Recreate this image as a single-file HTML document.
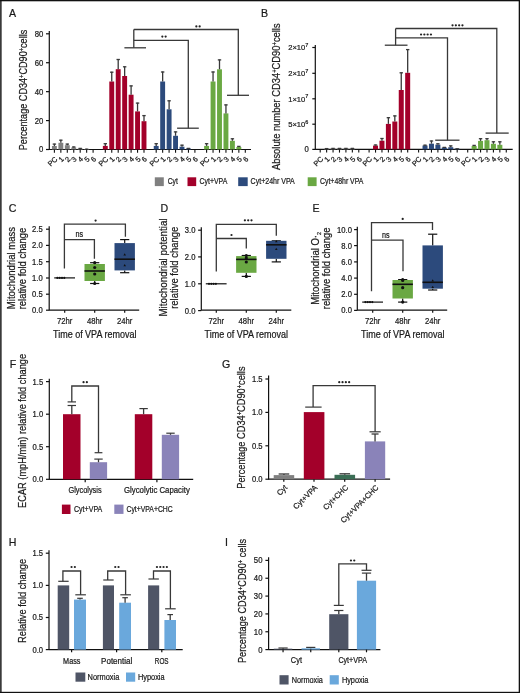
<!DOCTYPE html>
<html><head><meta charset="utf-8"><style>
html,body{margin:0;padding:0;background:#fff;width:520px;height:693px;overflow:hidden}
svg{display:block}
text{font-family:"Liberation Sans", sans-serif;stroke:#1a1a1a;stroke-width:0.22px}
svg{will-change:transform}
</style></head><body>
<svg width="520" height="693" viewBox="0 0 520 693" font-family='"Liberation Sans", sans-serif'>
<rect x="0" y="0" width="520" height="693" fill="#ffffff"/>
<text x="9.00" y="16.60" font-size="10.6" fill="#1a1a1a">A</text>
<line x1="49.30" y1="31.00" x2="49.30" y2="150.00" stroke="#111" stroke-width="1.2"/>
<line x1="49.30" y1="149.50" x2="251.00" y2="149.50" stroke="#111" stroke-width="1.2"/>
<line x1="46.00" y1="149.50" x2="49.30" y2="149.50" stroke="#111" stroke-width="1.2"/>
<text x="43.35" y="152.45" font-size="8.2" fill="#1a1a1a" text-anchor="end" textLength="4.30" lengthAdjust="spacingAndGlyphs">0</text>
<line x1="46.00" y1="120.58" x2="49.30" y2="120.58" stroke="#111" stroke-width="1.2"/>
<text x="43.35" y="123.53" font-size="8.2" fill="#1a1a1a" text-anchor="end" textLength="8.60" lengthAdjust="spacingAndGlyphs">20</text>
<line x1="46.00" y1="91.65" x2="49.30" y2="91.65" stroke="#111" stroke-width="1.2"/>
<text x="43.35" y="94.60" font-size="8.2" fill="#1a1a1a" text-anchor="end" textLength="8.60" lengthAdjust="spacingAndGlyphs">40</text>
<line x1="46.00" y1="62.72" x2="49.30" y2="62.72" stroke="#111" stroke-width="1.2"/>
<text x="43.35" y="65.67" font-size="8.2" fill="#1a1a1a" text-anchor="end" textLength="8.60" lengthAdjust="spacingAndGlyphs">60</text>
<line x1="46.00" y1="33.80" x2="49.30" y2="33.80" stroke="#111" stroke-width="1.2"/>
<text x="43.35" y="36.75" font-size="8.2" fill="#1a1a1a" text-anchor="end" textLength="8.60" lengthAdjust="spacingAndGlyphs">80</text>
<text transform="translate(27.30,90.00) rotate(-90)" font-size="10.4" fill="#1a1a1a" text-anchor="middle" textLength="120.50" lengthAdjust="spacingAndGlyphs">Percentage CD34<tspan dy="-3.0" font-size="6.5">+</tspan><tspan dy="3.0">CD90</tspan><tspan dy="-3.0" font-size="6.5">+</tspan><tspan dy="3.0">cells</tspan></text>
<rect x="51.95" y="146.00" width="4.90" height="3.50" fill="#808080"/>
<line x1="54.40" y1="146.00" x2="54.40" y2="143.70" stroke="#383838" stroke-width="1.3"/>
<line x1="52.70" y1="144.10" x2="56.10" y2="144.10" stroke="#383838" stroke-width="1.3"/>
<line x1="54.40" y1="149.50" x2="54.40" y2="152.70" stroke="#111" stroke-width="1.1"/>
<text transform="translate(56.10,157.90) rotate(-45)" font-size="7.3" fill="#1a1a1a" text-anchor="end" dominant-baseline="central">PC</text>
<rect x="58.40" y="142.80" width="4.90" height="6.70" fill="#808080"/>
<line x1="60.85" y1="142.80" x2="60.85" y2="139.80" stroke="#383838" stroke-width="1.3"/>
<line x1="59.15" y1="140.20" x2="62.55" y2="140.20" stroke="#383838" stroke-width="1.3"/>
<line x1="60.85" y1="149.50" x2="60.85" y2="152.70" stroke="#111" stroke-width="1.1"/>
<text transform="translate(62.55,157.90) rotate(-45)" font-size="7.3" fill="#1a1a1a" text-anchor="end" dominant-baseline="central">1</text>
<rect x="64.85" y="145.20" width="4.90" height="4.30" fill="#808080"/>
<line x1="67.30" y1="145.20" x2="67.30" y2="143.70" stroke="#383838" stroke-width="1.3"/>
<line x1="65.60" y1="144.10" x2="69.00" y2="144.10" stroke="#383838" stroke-width="1.3"/>
<line x1="67.30" y1="149.50" x2="67.30" y2="152.70" stroke="#111" stroke-width="1.1"/>
<text transform="translate(69.00,157.90) rotate(-45)" font-size="7.3" fill="#1a1a1a" text-anchor="end" dominant-baseline="central">2</text>
<rect x="71.30" y="147.50" width="4.90" height="2.00" fill="#808080"/>
<line x1="73.75" y1="147.50" x2="73.75" y2="146.60" stroke="#383838" stroke-width="1.3"/>
<line x1="72.05" y1="147.00" x2="75.45" y2="147.00" stroke="#383838" stroke-width="1.3"/>
<line x1="73.75" y1="149.50" x2="73.75" y2="152.70" stroke="#111" stroke-width="1.1"/>
<text transform="translate(75.45,157.90) rotate(-45)" font-size="7.3" fill="#1a1a1a" text-anchor="end" dominant-baseline="central">3</text>
<rect x="77.75" y="148.50" width="4.90" height="1.00" fill="#808080"/>
<line x1="80.20" y1="148.50" x2="80.20" y2="148.00" stroke="#383838" stroke-width="1.3"/>
<line x1="78.50" y1="148.40" x2="81.90" y2="148.40" stroke="#383838" stroke-width="1.3"/>
<line x1="80.20" y1="149.50" x2="80.20" y2="152.70" stroke="#111" stroke-width="1.1"/>
<text transform="translate(81.90,157.90) rotate(-45)" font-size="7.3" fill="#1a1a1a" text-anchor="end" dominant-baseline="central">4</text>
<rect x="84.20" y="149.00" width="4.90" height="0.50" fill="#808080"/>
<line x1="86.65" y1="149.00" x2="86.65" y2="148.80" stroke="#383838" stroke-width="1.3"/>
<line x1="84.95" y1="149.20" x2="88.35" y2="149.20" stroke="#383838" stroke-width="1.3"/>
<line x1="86.65" y1="149.50" x2="86.65" y2="152.70" stroke="#111" stroke-width="1.1"/>
<text transform="translate(88.35,157.90) rotate(-45)" font-size="7.3" fill="#1a1a1a" text-anchor="end" dominant-baseline="central">5</text>
<line x1="93.10" y1="149.50" x2="93.10" y2="152.70" stroke="#111" stroke-width="1.1"/>
<text transform="translate(94.80,157.90) rotate(-45)" font-size="7.3" fill="#1a1a1a" text-anchor="end" dominant-baseline="central">6</text>
<rect x="102.85" y="145.90" width="4.90" height="3.60" fill="#a3002a"/>
<line x1="105.30" y1="145.90" x2="105.30" y2="143.30" stroke="#383838" stroke-width="1.3"/>
<line x1="103.60" y1="143.70" x2="107.00" y2="143.70" stroke="#383838" stroke-width="1.3"/>
<line x1="105.30" y1="149.50" x2="105.30" y2="152.70" stroke="#111" stroke-width="1.1"/>
<text transform="translate(107.00,157.90) rotate(-45)" font-size="7.3" fill="#1a1a1a" text-anchor="end" dominant-baseline="central">PC</text>
<rect x="109.30" y="81.50" width="4.90" height="68.00" fill="#a3002a"/>
<line x1="111.75" y1="81.50" x2="111.75" y2="71.80" stroke="#383838" stroke-width="1.3"/>
<line x1="110.05" y1="72.20" x2="113.45" y2="72.20" stroke="#383838" stroke-width="1.3"/>
<line x1="111.75" y1="149.50" x2="111.75" y2="152.70" stroke="#111" stroke-width="1.1"/>
<text transform="translate(113.45,157.90) rotate(-45)" font-size="7.3" fill="#1a1a1a" text-anchor="end" dominant-baseline="central">1</text>
<rect x="115.75" y="69.20" width="4.90" height="80.30" fill="#a3002a"/>
<line x1="118.20" y1="69.20" x2="118.20" y2="59.10" stroke="#383838" stroke-width="1.3"/>
<line x1="116.50" y1="59.50" x2="119.90" y2="59.50" stroke="#383838" stroke-width="1.3"/>
<line x1="118.20" y1="149.50" x2="118.20" y2="152.70" stroke="#111" stroke-width="1.1"/>
<text transform="translate(119.90,157.90) rotate(-45)" font-size="7.3" fill="#1a1a1a" text-anchor="end" dominant-baseline="central">2</text>
<rect x="122.20" y="76.00" width="4.90" height="73.50" fill="#a3002a"/>
<line x1="124.65" y1="76.00" x2="124.65" y2="66.40" stroke="#383838" stroke-width="1.3"/>
<line x1="122.95" y1="66.80" x2="126.35" y2="66.80" stroke="#383838" stroke-width="1.3"/>
<line x1="124.65" y1="149.50" x2="124.65" y2="152.70" stroke="#111" stroke-width="1.1"/>
<text transform="translate(126.35,157.90) rotate(-45)" font-size="7.3" fill="#1a1a1a" text-anchor="end" dominant-baseline="central">3</text>
<rect x="128.65" y="94.70" width="4.90" height="54.80" fill="#a3002a"/>
<line x1="131.10" y1="94.70" x2="131.10" y2="85.50" stroke="#383838" stroke-width="1.3"/>
<line x1="129.40" y1="85.90" x2="132.80" y2="85.90" stroke="#383838" stroke-width="1.3"/>
<line x1="131.10" y1="149.50" x2="131.10" y2="152.70" stroke="#111" stroke-width="1.1"/>
<text transform="translate(132.80,157.90) rotate(-45)" font-size="7.3" fill="#1a1a1a" text-anchor="end" dominant-baseline="central">4</text>
<rect x="135.10" y="111.40" width="4.90" height="38.10" fill="#a3002a"/>
<line x1="137.55" y1="111.40" x2="137.55" y2="102.70" stroke="#383838" stroke-width="1.3"/>
<line x1="135.85" y1="103.10" x2="139.25" y2="103.10" stroke="#383838" stroke-width="1.3"/>
<line x1="137.55" y1="149.50" x2="137.55" y2="152.70" stroke="#111" stroke-width="1.1"/>
<text transform="translate(139.25,157.90) rotate(-45)" font-size="7.3" fill="#1a1a1a" text-anchor="end" dominant-baseline="central">5</text>
<rect x="141.55" y="121.20" width="4.90" height="28.30" fill="#a3002a"/>
<line x1="144.00" y1="121.20" x2="144.00" y2="115.20" stroke="#383838" stroke-width="1.3"/>
<line x1="142.30" y1="115.60" x2="145.70" y2="115.60" stroke="#383838" stroke-width="1.3"/>
<line x1="144.00" y1="149.50" x2="144.00" y2="152.70" stroke="#111" stroke-width="1.1"/>
<text transform="translate(145.70,157.90) rotate(-45)" font-size="7.3" fill="#1a1a1a" text-anchor="end" dominant-baseline="central">6</text>
<rect x="153.75" y="145.90" width="4.90" height="3.60" fill="#2c4a7c"/>
<line x1="156.20" y1="145.90" x2="156.20" y2="143.30" stroke="#383838" stroke-width="1.3"/>
<line x1="154.50" y1="143.70" x2="157.90" y2="143.70" stroke="#383838" stroke-width="1.3"/>
<line x1="156.20" y1="149.50" x2="156.20" y2="152.70" stroke="#111" stroke-width="1.1"/>
<text transform="translate(157.90,157.90) rotate(-45)" font-size="7.3" fill="#1a1a1a" text-anchor="end" dominant-baseline="central">PC</text>
<rect x="160.20" y="81.50" width="4.90" height="68.00" fill="#2c4a7c"/>
<line x1="162.65" y1="81.50" x2="162.65" y2="71.60" stroke="#383838" stroke-width="1.3"/>
<line x1="160.95" y1="72.00" x2="164.35" y2="72.00" stroke="#383838" stroke-width="1.3"/>
<line x1="162.65" y1="149.50" x2="162.65" y2="152.70" stroke="#111" stroke-width="1.1"/>
<text transform="translate(164.35,157.90) rotate(-45)" font-size="7.3" fill="#1a1a1a" text-anchor="end" dominant-baseline="central">1</text>
<rect x="166.65" y="109.30" width="4.90" height="40.20" fill="#2c4a7c"/>
<line x1="169.10" y1="109.30" x2="169.10" y2="100.40" stroke="#383838" stroke-width="1.3"/>
<line x1="167.40" y1="100.80" x2="170.80" y2="100.80" stroke="#383838" stroke-width="1.3"/>
<line x1="169.10" y1="149.50" x2="169.10" y2="152.70" stroke="#111" stroke-width="1.1"/>
<text transform="translate(170.80,157.90) rotate(-45)" font-size="7.3" fill="#1a1a1a" text-anchor="end" dominant-baseline="central">2</text>
<rect x="173.10" y="135.80" width="4.90" height="13.70" fill="#2c4a7c"/>
<line x1="175.55" y1="135.80" x2="175.55" y2="131.50" stroke="#383838" stroke-width="1.3"/>
<line x1="173.85" y1="131.90" x2="177.25" y2="131.90" stroke="#383838" stroke-width="1.3"/>
<line x1="175.55" y1="149.50" x2="175.55" y2="152.70" stroke="#111" stroke-width="1.1"/>
<text transform="translate(177.25,157.90) rotate(-45)" font-size="7.3" fill="#1a1a1a" text-anchor="end" dominant-baseline="central">3</text>
<rect x="179.55" y="146.70" width="4.90" height="2.80" fill="#2c4a7c"/>
<line x1="182.00" y1="146.70" x2="182.00" y2="144.80" stroke="#383838" stroke-width="1.3"/>
<line x1="180.30" y1="145.20" x2="183.70" y2="145.20" stroke="#383838" stroke-width="1.3"/>
<line x1="182.00" y1="149.50" x2="182.00" y2="152.70" stroke="#111" stroke-width="1.1"/>
<text transform="translate(183.70,157.90) rotate(-45)" font-size="7.3" fill="#1a1a1a" text-anchor="end" dominant-baseline="central">4</text>
<rect x="186.00" y="148.50" width="4.90" height="1.00" fill="#2c4a7c"/>
<line x1="188.45" y1="148.50" x2="188.45" y2="148.00" stroke="#383838" stroke-width="1.3"/>
<line x1="186.75" y1="148.40" x2="190.15" y2="148.40" stroke="#383838" stroke-width="1.3"/>
<line x1="188.45" y1="149.50" x2="188.45" y2="152.70" stroke="#111" stroke-width="1.1"/>
<text transform="translate(190.15,157.90) rotate(-45)" font-size="7.3" fill="#1a1a1a" text-anchor="end" dominant-baseline="central">5</text>
<line x1="194.90" y1="149.50" x2="194.90" y2="152.70" stroke="#111" stroke-width="1.1"/>
<text transform="translate(196.60,157.90) rotate(-45)" font-size="7.3" fill="#1a1a1a" text-anchor="end" dominant-baseline="central">6</text>
<rect x="204.15" y="145.90" width="4.90" height="3.60" fill="#6aa843"/>
<line x1="206.60" y1="145.90" x2="206.60" y2="143.30" stroke="#383838" stroke-width="1.3"/>
<line x1="204.90" y1="143.70" x2="208.30" y2="143.70" stroke="#383838" stroke-width="1.3"/>
<line x1="206.60" y1="149.50" x2="206.60" y2="152.70" stroke="#111" stroke-width="1.1"/>
<text transform="translate(208.30,157.90) rotate(-45)" font-size="7.3" fill="#1a1a1a" text-anchor="end" dominant-baseline="central">PC</text>
<rect x="210.60" y="81.50" width="4.90" height="68.00" fill="#6aa843"/>
<line x1="213.05" y1="81.50" x2="213.05" y2="71.60" stroke="#383838" stroke-width="1.3"/>
<line x1="211.35" y1="72.00" x2="214.75" y2="72.00" stroke="#383838" stroke-width="1.3"/>
<line x1="213.05" y1="149.50" x2="213.05" y2="152.70" stroke="#111" stroke-width="1.1"/>
<text transform="translate(214.75,157.90) rotate(-45)" font-size="7.3" fill="#1a1a1a" text-anchor="end" dominant-baseline="central">1</text>
<rect x="217.05" y="69.30" width="4.90" height="80.20" fill="#6aa843"/>
<line x1="219.50" y1="69.30" x2="219.50" y2="59.50" stroke="#383838" stroke-width="1.3"/>
<line x1="217.80" y1="59.90" x2="221.20" y2="59.90" stroke="#383838" stroke-width="1.3"/>
<line x1="219.50" y1="149.50" x2="219.50" y2="152.70" stroke="#111" stroke-width="1.1"/>
<text transform="translate(221.20,157.90) rotate(-45)" font-size="7.3" fill="#1a1a1a" text-anchor="end" dominant-baseline="central">2</text>
<rect x="223.50" y="113.40" width="4.90" height="36.10" fill="#6aa843"/>
<line x1="225.95" y1="113.40" x2="225.95" y2="104.50" stroke="#383838" stroke-width="1.3"/>
<line x1="224.25" y1="104.90" x2="227.65" y2="104.90" stroke="#383838" stroke-width="1.3"/>
<line x1="225.95" y1="149.50" x2="225.95" y2="152.70" stroke="#111" stroke-width="1.1"/>
<text transform="translate(227.65,157.90) rotate(-45)" font-size="7.3" fill="#1a1a1a" text-anchor="end" dominant-baseline="central">3</text>
<rect x="229.95" y="140.80" width="4.90" height="8.70" fill="#6aa843"/>
<line x1="232.40" y1="140.80" x2="232.40" y2="138.40" stroke="#383838" stroke-width="1.3"/>
<line x1="230.70" y1="138.80" x2="234.10" y2="138.80" stroke="#383838" stroke-width="1.3"/>
<line x1="232.40" y1="149.50" x2="232.40" y2="152.70" stroke="#111" stroke-width="1.1"/>
<text transform="translate(234.10,157.90) rotate(-45)" font-size="7.3" fill="#1a1a1a" text-anchor="end" dominant-baseline="central">4</text>
<rect x="236.40" y="147.00" width="4.90" height="2.50" fill="#6aa843"/>
<line x1="238.85" y1="147.00" x2="238.85" y2="146.00" stroke="#383838" stroke-width="1.3"/>
<line x1="237.15" y1="146.40" x2="240.55" y2="146.40" stroke="#383838" stroke-width="1.3"/>
<line x1="238.85" y1="149.50" x2="238.85" y2="152.70" stroke="#111" stroke-width="1.1"/>
<text transform="translate(240.55,157.90) rotate(-45)" font-size="7.3" fill="#1a1a1a" text-anchor="end" dominant-baseline="central">5</text>
<line x1="245.30" y1="149.50" x2="245.30" y2="152.70" stroke="#111" stroke-width="1.1"/>
<text transform="translate(247.00,157.90) rotate(-45)" font-size="7.3" fill="#1a1a1a" text-anchor="end" dominant-baseline="central">6</text>
<line x1="133.80" y1="29.50" x2="133.80" y2="47.80" stroke="#383838" stroke-width="1.3"/>
<line x1="124.40" y1="47.80" x2="146.00" y2="47.80" stroke="#383838" stroke-width="1.3"/>
<polyline points="133.80,29.50 238.30,29.50 238.30,95.30" fill="none" stroke="#383838" stroke-width="1.3"/>
<line x1="227.00" y1="95.30" x2="249.00" y2="95.30" stroke="#383838" stroke-width="1.3"/>
<polyline points="133.80,40.30 188.30,40.30 188.30,128.20" fill="none" stroke="#383838" stroke-width="1.3"/>
<line x1="177.10" y1="128.20" x2="198.80" y2="128.20" stroke="#383838" stroke-width="1.3"/>
<circle cx="196.35" cy="26.40" r="1.12" fill="#222"/>
<circle cx="199.65" cy="26.40" r="1.12" fill="#222"/>
<circle cx="162.35" cy="36.60" r="1.12" fill="#222"/>
<circle cx="165.65" cy="36.60" r="1.12" fill="#222"/>
<rect x="154.80" y="177.30" width="9.00" height="8.80" fill="#808080"/>
<text x="167.70" y="184.40" font-size="8.5" fill="#1a1a1a" textLength="10.20" lengthAdjust="spacingAndGlyphs">Cyt</text>
<rect x="187.50" y="177.30" width="8.70" height="8.80" fill="#a3002a"/>
<text x="199.60" y="184.40" font-size="8.5" fill="#1a1a1a" textLength="27.70" lengthAdjust="spacingAndGlyphs">Cyt+VPA</text>
<rect x="238.20" y="177.30" width="9.50" height="8.80" fill="#2c4a7c"/>
<text x="250.60" y="184.40" font-size="8.5" fill="#1a1a1a" textLength="44.20" lengthAdjust="spacingAndGlyphs">Cyt+24hr VPA</text>
<rect x="307.70" y="177.30" width="8.90" height="8.80" fill="#6aa843"/>
<text x="320.00" y="184.40" font-size="8.5" fill="#1a1a1a" textLength="43.40" lengthAdjust="spacingAndGlyphs">Cyt+48hr VPA</text>
<text x="260.90" y="16.60" font-size="10.6" fill="#1a1a1a">B</text>
<line x1="315.30" y1="45.00" x2="315.30" y2="149.90" stroke="#111" stroke-width="1.2"/>
<line x1="315.30" y1="149.40" x2="512.70" y2="149.40" stroke="#111" stroke-width="1.2"/>
<line x1="312.30" y1="149.40" x2="315.30" y2="149.40" stroke="#111" stroke-width="1.2"/>
<text x="308.75" y="152.35" font-size="8.2" fill="#1a1a1a" text-anchor="end" textLength="4.30" lengthAdjust="spacingAndGlyphs">0</text>
<line x1="312.30" y1="124.20" x2="315.30" y2="124.20" stroke="#111" stroke-width="1.2"/>
<text x="288.20" y="127.10" font-size="8.0" fill="#1a1a1a" textLength="20.20" lengthAdjust="spacingAndGlyphs">5×10<tspan dy="-3.4" font-size="5.8">6</tspan></text>
<line x1="312.30" y1="98.80" x2="315.30" y2="98.80" stroke="#111" stroke-width="1.2"/>
<text x="288.20" y="101.70" font-size="8.0" fill="#1a1a1a" textLength="20.20" lengthAdjust="spacingAndGlyphs">1×10<tspan dy="-3.4" font-size="5.8">7</tspan></text>
<line x1="312.30" y1="73.30" x2="315.30" y2="73.30" stroke="#111" stroke-width="1.2"/>
<text x="288.20" y="76.20" font-size="8.0" fill="#1a1a1a" textLength="20.20" lengthAdjust="spacingAndGlyphs">2×10<tspan dy="-3.4" font-size="5.8">7</tspan></text>
<line x1="312.30" y1="47.50" x2="315.30" y2="47.50" stroke="#111" stroke-width="1.2"/>
<text x="288.20" y="50.40" font-size="8.0" fill="#1a1a1a" textLength="20.20" lengthAdjust="spacingAndGlyphs">2×10<tspan dy="-3.4" font-size="5.8">7</tspan></text>
<text transform="translate(279.90,96.70) rotate(-90)" font-size="10.4" fill="#1a1a1a" text-anchor="middle" textLength="146.60" lengthAdjust="spacingAndGlyphs">Absolute number CD34<tspan dy="-3.0" font-size="6.5">+</tspan><tspan dy="3.0">CD90</tspan><tspan dy="-3.0" font-size="6.5">+</tspan><tspan dy="3.0">cells</tspan></text>
<line x1="320.20" y1="149.40" x2="320.20" y2="152.60" stroke="#111" stroke-width="1.1"/>
<text transform="translate(321.90,157.80) rotate(-45)" font-size="7.3" fill="#1a1a1a" text-anchor="end" dominant-baseline="central">PC</text>
<rect x="324.13" y="148.60" width="5.00" height="0.80" fill="#808080"/>
<line x1="326.63" y1="148.60" x2="326.63" y2="148.20" stroke="#383838" stroke-width="1.3"/>
<line x1="324.93" y1="148.60" x2="328.33" y2="148.60" stroke="#383838" stroke-width="1.3"/>
<line x1="326.63" y1="149.40" x2="326.63" y2="152.60" stroke="#111" stroke-width="1.1"/>
<text transform="translate(328.33,157.80) rotate(-45)" font-size="7.3" fill="#1a1a1a" text-anchor="end" dominant-baseline="central">1</text>
<rect x="330.56" y="148.40" width="5.00" height="1.00" fill="#808080"/>
<line x1="333.06" y1="148.40" x2="333.06" y2="148.00" stroke="#383838" stroke-width="1.3"/>
<line x1="331.36" y1="148.40" x2="334.76" y2="148.40" stroke="#383838" stroke-width="1.3"/>
<line x1="333.06" y1="149.40" x2="333.06" y2="152.60" stroke="#111" stroke-width="1.1"/>
<text transform="translate(334.76,157.80) rotate(-45)" font-size="7.3" fill="#1a1a1a" text-anchor="end" dominant-baseline="central">2</text>
<rect x="336.99" y="148.40" width="5.00" height="1.00" fill="#808080"/>
<line x1="339.49" y1="148.40" x2="339.49" y2="148.00" stroke="#383838" stroke-width="1.3"/>
<line x1="337.79" y1="148.40" x2="341.19" y2="148.40" stroke="#383838" stroke-width="1.3"/>
<line x1="339.49" y1="149.40" x2="339.49" y2="152.60" stroke="#111" stroke-width="1.1"/>
<text transform="translate(341.19,157.80) rotate(-45)" font-size="7.3" fill="#1a1a1a" text-anchor="end" dominant-baseline="central">3</text>
<rect x="343.42" y="148.40" width="5.00" height="1.00" fill="#808080"/>
<line x1="345.92" y1="148.40" x2="345.92" y2="148.00" stroke="#383838" stroke-width="1.3"/>
<line x1="344.22" y1="148.40" x2="347.62" y2="148.40" stroke="#383838" stroke-width="1.3"/>
<line x1="345.92" y1="149.40" x2="345.92" y2="152.60" stroke="#111" stroke-width="1.1"/>
<text transform="translate(347.62,157.80) rotate(-45)" font-size="7.3" fill="#1a1a1a" text-anchor="end" dominant-baseline="central">4</text>
<rect x="349.85" y="148.40" width="5.00" height="1.00" fill="#808080"/>
<line x1="352.35" y1="148.40" x2="352.35" y2="148.00" stroke="#383838" stroke-width="1.3"/>
<line x1="350.65" y1="148.40" x2="354.05" y2="148.40" stroke="#383838" stroke-width="1.3"/>
<line x1="352.35" y1="149.40" x2="352.35" y2="152.60" stroke="#111" stroke-width="1.1"/>
<text transform="translate(354.05,157.80) rotate(-45)" font-size="7.3" fill="#1a1a1a" text-anchor="end" dominant-baseline="central">5</text>
<line x1="358.78" y1="149.40" x2="358.78" y2="152.60" stroke="#111" stroke-width="1.1"/>
<text transform="translate(360.48,157.80) rotate(-45)" font-size="7.3" fill="#1a1a1a" text-anchor="end" dominant-baseline="central">6</text>
<line x1="369.10" y1="149.40" x2="369.10" y2="152.60" stroke="#111" stroke-width="1.1"/>
<text transform="translate(370.80,157.80) rotate(-45)" font-size="7.3" fill="#1a1a1a" text-anchor="end" dominant-baseline="central">PC</text>
<rect x="373.03" y="145.60" width="5.00" height="3.80" fill="#a3002a"/>
<line x1="375.53" y1="145.60" x2="375.53" y2="144.60" stroke="#383838" stroke-width="1.3"/>
<line x1="373.83" y1="145.00" x2="377.23" y2="145.00" stroke="#383838" stroke-width="1.3"/>
<line x1="375.53" y1="149.40" x2="375.53" y2="152.60" stroke="#111" stroke-width="1.1"/>
<text transform="translate(377.23,157.80) rotate(-45)" font-size="7.3" fill="#1a1a1a" text-anchor="end" dominant-baseline="central">1</text>
<rect x="379.46" y="140.70" width="5.00" height="8.70" fill="#a3002a"/>
<line x1="381.96" y1="140.70" x2="381.96" y2="138.10" stroke="#383838" stroke-width="1.3"/>
<line x1="380.26" y1="138.50" x2="383.66" y2="138.50" stroke="#383838" stroke-width="1.3"/>
<line x1="381.96" y1="149.40" x2="381.96" y2="152.60" stroke="#111" stroke-width="1.1"/>
<text transform="translate(383.66,157.80) rotate(-45)" font-size="7.3" fill="#1a1a1a" text-anchor="end" dominant-baseline="central">2</text>
<rect x="385.89" y="123.90" width="5.00" height="25.50" fill="#a3002a"/>
<line x1="388.39" y1="123.90" x2="388.39" y2="117.30" stroke="#383838" stroke-width="1.3"/>
<line x1="386.69" y1="117.70" x2="390.09" y2="117.70" stroke="#383838" stroke-width="1.3"/>
<line x1="388.39" y1="149.40" x2="388.39" y2="152.60" stroke="#111" stroke-width="1.1"/>
<text transform="translate(390.09,157.80) rotate(-45)" font-size="7.3" fill="#1a1a1a" text-anchor="end" dominant-baseline="central">3</text>
<rect x="392.32" y="121.50" width="5.00" height="27.90" fill="#a3002a"/>
<line x1="394.82" y1="121.50" x2="394.82" y2="115.50" stroke="#383838" stroke-width="1.3"/>
<line x1="393.12" y1="115.90" x2="396.52" y2="115.90" stroke="#383838" stroke-width="1.3"/>
<line x1="394.82" y1="149.40" x2="394.82" y2="152.60" stroke="#111" stroke-width="1.1"/>
<text transform="translate(396.52,157.80) rotate(-45)" font-size="7.3" fill="#1a1a1a" text-anchor="end" dominant-baseline="central">4</text>
<rect x="398.75" y="90.00" width="5.00" height="59.40" fill="#a3002a"/>
<line x1="401.25" y1="90.00" x2="401.25" y2="72.40" stroke="#383838" stroke-width="1.3"/>
<line x1="399.55" y1="72.80" x2="402.95" y2="72.80" stroke="#383838" stroke-width="1.3"/>
<line x1="401.25" y1="149.40" x2="401.25" y2="152.60" stroke="#111" stroke-width="1.1"/>
<text transform="translate(402.95,157.80) rotate(-45)" font-size="7.3" fill="#1a1a1a" text-anchor="end" dominant-baseline="central">5</text>
<rect x="405.18" y="72.80" width="5.00" height="76.60" fill="#a3002a"/>
<line x1="407.68" y1="72.80" x2="407.68" y2="49.20" stroke="#383838" stroke-width="1.3"/>
<line x1="405.98" y1="49.60" x2="409.38" y2="49.60" stroke="#383838" stroke-width="1.3"/>
<line x1="407.68" y1="149.40" x2="407.68" y2="152.60" stroke="#111" stroke-width="1.1"/>
<text transform="translate(409.38,157.80) rotate(-45)" font-size="7.3" fill="#1a1a1a" text-anchor="end" dominant-baseline="central">6</text>
<line x1="418.60" y1="149.40" x2="418.60" y2="152.60" stroke="#111" stroke-width="1.1"/>
<text transform="translate(420.30,157.80) rotate(-45)" font-size="7.3" fill="#1a1a1a" text-anchor="end" dominant-baseline="central">PC</text>
<rect x="422.53" y="145.50" width="5.00" height="3.90" fill="#2c4a7c"/>
<line x1="425.03" y1="145.50" x2="425.03" y2="144.80" stroke="#383838" stroke-width="1.3"/>
<line x1="423.33" y1="145.20" x2="426.73" y2="145.20" stroke="#383838" stroke-width="1.3"/>
<line x1="425.03" y1="149.40" x2="425.03" y2="152.60" stroke="#111" stroke-width="1.1"/>
<text transform="translate(426.73,157.80) rotate(-45)" font-size="7.3" fill="#1a1a1a" text-anchor="end" dominant-baseline="central">1</text>
<rect x="428.96" y="143.70" width="5.00" height="5.70" fill="#2c4a7c"/>
<line x1="431.46" y1="143.70" x2="431.46" y2="140.60" stroke="#383838" stroke-width="1.3"/>
<line x1="429.76" y1="141.00" x2="433.16" y2="141.00" stroke="#383838" stroke-width="1.3"/>
<line x1="431.46" y1="149.40" x2="431.46" y2="152.60" stroke="#111" stroke-width="1.1"/>
<text transform="translate(433.16,157.80) rotate(-45)" font-size="7.3" fill="#1a1a1a" text-anchor="end" dominant-baseline="central">2</text>
<rect x="435.39" y="144.60" width="5.00" height="4.80" fill="#2c4a7c"/>
<line x1="437.89" y1="144.60" x2="437.89" y2="143.40" stroke="#383838" stroke-width="1.3"/>
<line x1="436.19" y1="143.80" x2="439.59" y2="143.80" stroke="#383838" stroke-width="1.3"/>
<line x1="437.89" y1="149.40" x2="437.89" y2="152.60" stroke="#111" stroke-width="1.1"/>
<text transform="translate(439.59,157.80) rotate(-45)" font-size="7.3" fill="#1a1a1a" text-anchor="end" dominant-baseline="central">3</text>
<rect x="441.82" y="147.50" width="5.00" height="1.90" fill="#2c4a7c"/>
<line x1="444.32" y1="147.50" x2="444.32" y2="147.00" stroke="#383838" stroke-width="1.3"/>
<line x1="442.62" y1="147.40" x2="446.02" y2="147.40" stroke="#383838" stroke-width="1.3"/>
<line x1="444.32" y1="149.40" x2="444.32" y2="152.60" stroke="#111" stroke-width="1.1"/>
<text transform="translate(446.02,157.80) rotate(-45)" font-size="7.3" fill="#1a1a1a" text-anchor="end" dominant-baseline="central">4</text>
<rect x="448.25" y="147.20" width="5.00" height="2.20" fill="#2c4a7c"/>
<line x1="450.75" y1="147.20" x2="450.75" y2="145.50" stroke="#383838" stroke-width="1.3"/>
<line x1="449.05" y1="145.90" x2="452.45" y2="145.90" stroke="#383838" stroke-width="1.3"/>
<line x1="450.75" y1="149.40" x2="450.75" y2="152.60" stroke="#111" stroke-width="1.1"/>
<text transform="translate(452.45,157.80) rotate(-45)" font-size="7.3" fill="#1a1a1a" text-anchor="end" dominant-baseline="central">5</text>
<rect x="454.68" y="148.70" width="5.00" height="0.70" fill="#2c4a7c"/>
<line x1="457.18" y1="148.70" x2="457.18" y2="148.40" stroke="#383838" stroke-width="1.3"/>
<line x1="455.48" y1="148.80" x2="458.88" y2="148.80" stroke="#383838" stroke-width="1.3"/>
<line x1="457.18" y1="149.40" x2="457.18" y2="152.60" stroke="#111" stroke-width="1.1"/>
<text transform="translate(458.88,157.80) rotate(-45)" font-size="7.3" fill="#1a1a1a" text-anchor="end" dominant-baseline="central">6</text>
<line x1="467.70" y1="149.40" x2="467.70" y2="152.60" stroke="#111" stroke-width="1.1"/>
<text transform="translate(469.40,157.80) rotate(-45)" font-size="7.3" fill="#1a1a1a" text-anchor="end" dominant-baseline="central">PC</text>
<rect x="471.63" y="146.00" width="5.00" height="3.40" fill="#6aa843"/>
<line x1="474.13" y1="146.00" x2="474.13" y2="145.00" stroke="#383838" stroke-width="1.3"/>
<line x1="472.43" y1="145.40" x2="475.83" y2="145.40" stroke="#383838" stroke-width="1.3"/>
<line x1="474.13" y1="149.40" x2="474.13" y2="152.60" stroke="#111" stroke-width="1.1"/>
<text transform="translate(475.83,157.80) rotate(-45)" font-size="7.3" fill="#1a1a1a" text-anchor="end" dominant-baseline="central">1</text>
<rect x="478.06" y="140.90" width="5.00" height="8.50" fill="#6aa843"/>
<line x1="480.56" y1="140.90" x2="480.56" y2="138.30" stroke="#383838" stroke-width="1.3"/>
<line x1="478.86" y1="138.70" x2="482.26" y2="138.70" stroke="#383838" stroke-width="1.3"/>
<line x1="480.56" y1="149.40" x2="480.56" y2="152.60" stroke="#111" stroke-width="1.1"/>
<text transform="translate(482.26,157.80) rotate(-45)" font-size="7.3" fill="#1a1a1a" text-anchor="end" dominant-baseline="central">2</text>
<rect x="484.49" y="140.20" width="5.00" height="9.20" fill="#6aa843"/>
<line x1="486.99" y1="140.20" x2="486.99" y2="138.30" stroke="#383838" stroke-width="1.3"/>
<line x1="485.29" y1="138.70" x2="488.69" y2="138.70" stroke="#383838" stroke-width="1.3"/>
<line x1="486.99" y1="149.40" x2="486.99" y2="152.60" stroke="#111" stroke-width="1.1"/>
<text transform="translate(488.69,157.80) rotate(-45)" font-size="7.3" fill="#1a1a1a" text-anchor="end" dominant-baseline="central">3</text>
<rect x="490.92" y="143.80" width="5.00" height="5.60" fill="#6aa843"/>
<line x1="493.42" y1="143.80" x2="493.42" y2="141.40" stroke="#383838" stroke-width="1.3"/>
<line x1="491.72" y1="141.80" x2="495.12" y2="141.80" stroke="#383838" stroke-width="1.3"/>
<line x1="493.42" y1="149.40" x2="493.42" y2="152.60" stroke="#111" stroke-width="1.1"/>
<text transform="translate(495.12,157.80) rotate(-45)" font-size="7.3" fill="#1a1a1a" text-anchor="end" dominant-baseline="central">4</text>
<rect x="497.35" y="144.80" width="5.00" height="4.60" fill="#6aa843"/>
<line x1="499.85" y1="144.80" x2="499.85" y2="141.40" stroke="#383838" stroke-width="1.3"/>
<line x1="498.15" y1="141.80" x2="501.55" y2="141.80" stroke="#383838" stroke-width="1.3"/>
<line x1="499.85" y1="149.40" x2="499.85" y2="152.60" stroke="#111" stroke-width="1.1"/>
<text transform="translate(501.55,157.80) rotate(-45)" font-size="7.3" fill="#1a1a1a" text-anchor="end" dominant-baseline="central">5</text>
<line x1="506.28" y1="149.40" x2="506.28" y2="152.60" stroke="#111" stroke-width="1.1"/>
<text transform="translate(507.98,157.80) rotate(-45)" font-size="7.3" fill="#1a1a1a" text-anchor="end" dominant-baseline="central">6</text>
<line x1="395.60" y1="28.50" x2="395.60" y2="45.20" stroke="#383838" stroke-width="1.3"/>
<line x1="384.80" y1="45.20" x2="407.50" y2="45.20" stroke="#383838" stroke-width="1.3"/>
<polyline points="395.60,28.50 496.80,28.50 496.80,133.10" fill="none" stroke="#383838" stroke-width="1.3"/>
<line x1="485.60" y1="133.10" x2="508.70" y2="133.10" stroke="#383838" stroke-width="1.3"/>
<polyline points="395.60,37.90 447.50,37.90 447.50,140.20" fill="none" stroke="#383838" stroke-width="1.3"/>
<line x1="435.20" y1="140.20" x2="459.50" y2="140.20" stroke="#383838" stroke-width="1.3"/>
<circle cx="452.55" cy="25.30" r="1.12" fill="#222"/>
<circle cx="455.85" cy="25.30" r="1.12" fill="#222"/>
<circle cx="459.15" cy="25.30" r="1.12" fill="#222"/>
<circle cx="462.45" cy="25.30" r="1.12" fill="#222"/>
<circle cx="421.05" cy="34.50" r="1.12" fill="#222"/>
<circle cx="424.35" cy="34.50" r="1.12" fill="#222"/>
<circle cx="427.65" cy="34.50" r="1.12" fill="#222"/>
<circle cx="430.95" cy="34.50" r="1.12" fill="#222"/>
<text x="8.70" y="211.90" font-size="10.6" fill="#1a1a1a">C</text>
<line x1="49.20" y1="226.20" x2="49.20" y2="310.40" stroke="#111" stroke-width="1.2"/>
<line x1="49.20" y1="310.20" x2="139.20" y2="310.20" stroke="#111" stroke-width="1.2"/>
<line x1="46.00" y1="310.20" x2="49.20" y2="310.20" stroke="#111" stroke-width="1.2"/>
<text x="42.65" y="313.15" font-size="8.2" fill="#1a1a1a" text-anchor="end" textLength="10.60" lengthAdjust="spacingAndGlyphs">0.0</text>
<line x1="46.00" y1="294.20" x2="49.20" y2="294.20" stroke="#111" stroke-width="1.2"/>
<text x="42.65" y="297.15" font-size="8.2" fill="#1a1a1a" text-anchor="end" textLength="10.60" lengthAdjust="spacingAndGlyphs">0.5</text>
<line x1="46.00" y1="278.00" x2="49.20" y2="278.00" stroke="#111" stroke-width="1.2"/>
<text x="42.65" y="280.95" font-size="8.2" fill="#1a1a1a" text-anchor="end" textLength="10.60" lengthAdjust="spacingAndGlyphs">1.0</text>
<line x1="46.00" y1="261.70" x2="49.20" y2="261.70" stroke="#111" stroke-width="1.2"/>
<text x="42.65" y="264.65" font-size="8.2" fill="#1a1a1a" text-anchor="end" textLength="10.60" lengthAdjust="spacingAndGlyphs">1.5</text>
<line x1="46.00" y1="245.40" x2="49.20" y2="245.40" stroke="#111" stroke-width="1.2"/>
<text x="42.65" y="248.35" font-size="8.2" fill="#1a1a1a" text-anchor="end" textLength="10.60" lengthAdjust="spacingAndGlyphs">2.0</text>
<line x1="46.00" y1="229.20" x2="49.20" y2="229.20" stroke="#111" stroke-width="1.2"/>
<text x="42.65" y="232.15" font-size="8.2" fill="#1a1a1a" text-anchor="end" textLength="10.60" lengthAdjust="spacingAndGlyphs">2.5</text>
<text transform="translate(14.90,268.00) rotate(-90)" font-size="10.4" fill="#1a1a1a" text-anchor="middle" textLength="82.30" lengthAdjust="spacingAndGlyphs">Mitochondrial mass</text>
<text transform="translate(25.70,268.50) rotate(-90)" font-size="10.4" fill="#1a1a1a" text-anchor="middle" textLength="81.60" lengthAdjust="spacingAndGlyphs">relative fold change</text>
<line x1="64.70" y1="310.20" x2="64.70" y2="312.70" stroke="#111" stroke-width="1.2"/>
<text x="64.70" y="323.60" font-size="8.3" fill="#1a1a1a" text-anchor="middle" textLength="15.40" lengthAdjust="spacingAndGlyphs">72hr</text>
<line x1="94.70" y1="310.20" x2="94.70" y2="312.70" stroke="#111" stroke-width="1.2"/>
<text x="94.70" y="323.60" font-size="8.3" fill="#1a1a1a" text-anchor="middle" textLength="15.40" lengthAdjust="spacingAndGlyphs">48hr</text>
<line x1="124.70" y1="310.20" x2="124.70" y2="312.70" stroke="#111" stroke-width="1.2"/>
<text x="124.70" y="323.60" font-size="8.3" fill="#1a1a1a" text-anchor="middle" textLength="15.40" lengthAdjust="spacingAndGlyphs">24hr</text>
<text x="94.70" y="338.10" font-size="10.1" fill="#1a1a1a" text-anchor="middle" textLength="83.40" lengthAdjust="spacingAndGlyphs">Time of VPA removal</text>
<line x1="54.20" y1="277.90" x2="75.00" y2="277.90" stroke="#111" stroke-width="1.2"/>
<circle cx="57.40" cy="277.90" r="1.1" fill="#111"/>
<circle cx="59.70" cy="277.90" r="1.1" fill="#111"/>
<circle cx="62.00" cy="277.90" r="1.1" fill="#111"/>
<circle cx="64.30" cy="277.90" r="1.1" fill="#111"/>
<line x1="94.70" y1="262.70" x2="94.70" y2="264.00" stroke="#111" stroke-width="1.2"/>
<line x1="94.70" y1="281.00" x2="94.70" y2="283.50" stroke="#111" stroke-width="1.2"/>
<line x1="90.10" y1="262.70" x2="99.30" y2="262.70" stroke="#111" stroke-width="1.2"/>
<line x1="90.10" y1="283.50" x2="99.30" y2="283.50" stroke="#111" stroke-width="1.2"/>
<rect x="84.50" y="264.00" width="20.40" height="17.00" fill="#6aa843"/>
<line x1="84.50" y1="271.00" x2="104.90" y2="271.00" stroke="#111" stroke-width="1.6"/>
<circle cx="94.70" cy="262.70" r="1.6" fill="#111"/>
<circle cx="94.70" cy="267.50" r="1.6" fill="#111"/>
<circle cx="94.70" cy="274.00" r="1.6" fill="#111"/>
<circle cx="94.70" cy="283.50" r="1.6" fill="#111"/>
<line x1="124.70" y1="239.60" x2="124.70" y2="243.10" stroke="#111" stroke-width="1.2"/>
<line x1="124.70" y1="270.40" x2="124.70" y2="272.70" stroke="#111" stroke-width="1.2"/>
<line x1="120.10" y1="239.60" x2="129.30" y2="239.60" stroke="#111" stroke-width="1.2"/>
<line x1="120.10" y1="272.70" x2="129.30" y2="272.70" stroke="#111" stroke-width="1.2"/>
<rect x="114.50" y="243.10" width="20.40" height="27.30" fill="#2c4a7c"/>
<line x1="114.50" y1="259.20" x2="134.90" y2="259.20" stroke="#111" stroke-width="1.6"/>
<path d="M123.40,255.50 L126.00,255.50 L124.70,253.20 Z" fill="#111"/>
<path d="M123.40,266.20 L126.00,266.20 L124.70,263.90 Z" fill="#111"/>
<polyline points="64.40,268.50 64.40,224.20 125.40,224.20 125.40,236.70" fill="none" stroke="#383838" stroke-width="1.3"/>
<polyline points="64.40,239.60 94.40,239.60 94.40,258.80" fill="none" stroke="#383838" stroke-width="1.3"/>
<circle cx="95.60" cy="220.60" r="1.12" fill="#222"/>
<text x="79.30" y="236.60" font-size="8.3" fill="#1a1a1a" text-anchor="middle" textLength="7.60" lengthAdjust="spacingAndGlyphs">ns</text>
<text x="160.50" y="211.70" font-size="10.6" fill="#1a1a1a">D</text>
<line x1="201.30" y1="227.30" x2="201.30" y2="310.40" stroke="#111" stroke-width="1.2"/>
<line x1="201.30" y1="310.20" x2="291.30" y2="310.20" stroke="#111" stroke-width="1.2"/>
<line x1="198.10" y1="310.60" x2="201.30" y2="310.60" stroke="#111" stroke-width="1.2"/>
<text x="195.45" y="313.55" font-size="8.2" fill="#1a1a1a" text-anchor="end" textLength="10.60" lengthAdjust="spacingAndGlyphs">0.0</text>
<line x1="198.10" y1="283.80" x2="201.30" y2="283.80" stroke="#111" stroke-width="1.2"/>
<text x="195.45" y="286.75" font-size="8.2" fill="#1a1a1a" text-anchor="end" textLength="10.60" lengthAdjust="spacingAndGlyphs">1.0</text>
<line x1="198.10" y1="256.90" x2="201.30" y2="256.90" stroke="#111" stroke-width="1.2"/>
<text x="195.45" y="259.85" font-size="8.2" fill="#1a1a1a" text-anchor="end" textLength="10.60" lengthAdjust="spacingAndGlyphs">2.0</text>
<line x1="198.10" y1="230.20" x2="201.30" y2="230.20" stroke="#111" stroke-width="1.2"/>
<text x="195.45" y="233.15" font-size="8.2" fill="#1a1a1a" text-anchor="end" textLength="10.60" lengthAdjust="spacingAndGlyphs">3.0</text>
<text transform="translate(167.00,267.50) rotate(-90)" font-size="10.4" fill="#1a1a1a" text-anchor="middle" textLength="98.20" lengthAdjust="spacingAndGlyphs">Mitochondrial potential</text>
<text transform="translate(177.60,267.80) rotate(-90)" font-size="10.4" fill="#1a1a1a" text-anchor="middle" textLength="82.00" lengthAdjust="spacingAndGlyphs">relative fold change</text>
<line x1="216.30" y1="310.20" x2="216.30" y2="312.70" stroke="#111" stroke-width="1.2"/>
<text x="216.30" y="323.60" font-size="8.3" fill="#1a1a1a" text-anchor="middle" textLength="15.40" lengthAdjust="spacingAndGlyphs">72hr</text>
<line x1="246.30" y1="310.20" x2="246.30" y2="312.70" stroke="#111" stroke-width="1.2"/>
<text x="246.30" y="323.60" font-size="8.3" fill="#1a1a1a" text-anchor="middle" textLength="15.40" lengthAdjust="spacingAndGlyphs">48hr</text>
<line x1="276.30" y1="310.20" x2="276.30" y2="312.70" stroke="#111" stroke-width="1.2"/>
<text x="276.30" y="323.60" font-size="8.3" fill="#1a1a1a" text-anchor="middle" textLength="15.40" lengthAdjust="spacingAndGlyphs">24hr</text>
<text x="246.30" y="338.10" font-size="10.1" fill="#1a1a1a" text-anchor="middle" textLength="83.40" lengthAdjust="spacingAndGlyphs">Time of VPA removal</text>
<line x1="205.80" y1="283.80" x2="226.60" y2="283.80" stroke="#111" stroke-width="1.2"/>
<circle cx="209.00" cy="283.80" r="1.1" fill="#111"/>
<circle cx="211.30" cy="283.80" r="1.1" fill="#111"/>
<circle cx="213.60" cy="283.80" r="1.1" fill="#111"/>
<circle cx="215.90" cy="283.80" r="1.1" fill="#111"/>
<line x1="246.30" y1="255.50" x2="246.30" y2="256.10" stroke="#111" stroke-width="1.2"/>
<line x1="246.30" y1="272.80" x2="246.30" y2="276.40" stroke="#111" stroke-width="1.2"/>
<line x1="241.70" y1="255.50" x2="250.90" y2="255.50" stroke="#111" stroke-width="1.2"/>
<line x1="241.70" y1="276.40" x2="250.90" y2="276.40" stroke="#111" stroke-width="1.2"/>
<rect x="236.10" y="256.10" width="20.40" height="16.70" fill="#6aa843"/>
<line x1="236.10" y1="259.40" x2="256.50" y2="259.40" stroke="#111" stroke-width="1.6"/>
<circle cx="246.30" cy="255.50" r="1.6" fill="#111"/>
<circle cx="246.30" cy="258.00" r="1.6" fill="#111"/>
<circle cx="246.30" cy="262.00" r="1.6" fill="#111"/>
<circle cx="246.30" cy="276.40" r="1.6" fill="#111"/>
<line x1="276.30" y1="240.80" x2="276.30" y2="240.80" stroke="#111" stroke-width="1.2"/>
<line x1="276.30" y1="258.80" x2="276.30" y2="261.90" stroke="#111" stroke-width="1.2"/>
<line x1="271.70" y1="240.80" x2="280.90" y2="240.80" stroke="#111" stroke-width="1.2"/>
<line x1="271.70" y1="261.90" x2="280.90" y2="261.90" stroke="#111" stroke-width="1.2"/>
<rect x="266.10" y="240.80" width="20.40" height="18.00" fill="#2c4a7c"/>
<line x1="266.10" y1="244.80" x2="286.50" y2="244.80" stroke="#111" stroke-width="1.6"/>
<path d="M275.00,242.20 L277.60,242.20 L276.30,239.90 Z" fill="#111"/>
<path d="M275.00,250.00 L277.60,250.00 L276.30,247.70 Z" fill="#111"/>
<polyline points="216.30,271.50 216.30,224.30 276.30,224.30 276.30,235.80" fill="none" stroke="#383838" stroke-width="1.3"/>
<polyline points="216.30,238.50 246.30,238.50 246.30,248.40" fill="none" stroke="#383838" stroke-width="1.3"/>
<circle cx="244.90" cy="220.30" r="1.12" fill="#222"/>
<circle cx="248.20" cy="220.30" r="1.12" fill="#222"/>
<circle cx="251.50" cy="220.30" r="1.12" fill="#222"/>
<circle cx="231.50" cy="235.00" r="1.12" fill="#222"/>
<text x="312.50" y="211.90" font-size="10.6" fill="#1a1a1a">E</text>
<line x1="357.30" y1="226.70" x2="357.30" y2="310.40" stroke="#111" stroke-width="1.2"/>
<line x1="357.30" y1="310.20" x2="447.20" y2="310.20" stroke="#111" stroke-width="1.2"/>
<line x1="354.10" y1="310.40" x2="357.30" y2="310.40" stroke="#111" stroke-width="1.2"/>
<text x="351.95" y="313.35" font-size="8.2" fill="#1a1a1a" text-anchor="end" textLength="10.60" lengthAdjust="spacingAndGlyphs">0.0</text>
<line x1="354.10" y1="294.30" x2="357.30" y2="294.30" stroke="#111" stroke-width="1.2"/>
<text x="351.95" y="297.25" font-size="8.2" fill="#1a1a1a" text-anchor="end" textLength="10.60" lengthAdjust="spacingAndGlyphs">2.0</text>
<line x1="354.10" y1="278.10" x2="357.30" y2="278.10" stroke="#111" stroke-width="1.2"/>
<text x="351.95" y="281.05" font-size="8.2" fill="#1a1a1a" text-anchor="end" textLength="10.60" lengthAdjust="spacingAndGlyphs">4.0</text>
<line x1="354.10" y1="261.90" x2="357.30" y2="261.90" stroke="#111" stroke-width="1.2"/>
<text x="351.95" y="264.85" font-size="8.2" fill="#1a1a1a" text-anchor="end" textLength="10.60" lengthAdjust="spacingAndGlyphs">6.0</text>
<line x1="354.10" y1="245.60" x2="357.30" y2="245.60" stroke="#111" stroke-width="1.2"/>
<text x="351.95" y="248.55" font-size="8.2" fill="#1a1a1a" text-anchor="end" textLength="10.60" lengthAdjust="spacingAndGlyphs">8.0</text>
<line x1="354.10" y1="229.60" x2="357.30" y2="229.60" stroke="#111" stroke-width="1.2"/>
<text x="351.95" y="232.55" font-size="8.2" fill="#1a1a1a" text-anchor="end" textLength="14.90" lengthAdjust="spacingAndGlyphs">10.0</text>
<text transform="translate(318.90,268.40) rotate(-90)" font-size="10.4" fill="#1a1a1a" text-anchor="middle" textLength="72.80" lengthAdjust="spacingAndGlyphs">Mitochondrial O<tspan>·</tspan><tspan dy="2.1" font-size="5.8">2</tspan></text>
<text transform="translate(330.10,268.30) rotate(-90)" font-size="10.4" fill="#1a1a1a" text-anchor="middle" textLength="81.70" lengthAdjust="spacingAndGlyphs">relative fold change</text>
<line x1="372.70" y1="310.20" x2="372.70" y2="312.70" stroke="#111" stroke-width="1.2"/>
<text x="372.70" y="323.60" font-size="8.3" fill="#1a1a1a" text-anchor="middle" textLength="15.40" lengthAdjust="spacingAndGlyphs">72hr</text>
<line x1="402.70" y1="310.20" x2="402.70" y2="312.70" stroke="#111" stroke-width="1.2"/>
<text x="402.70" y="323.60" font-size="8.3" fill="#1a1a1a" text-anchor="middle" textLength="15.40" lengthAdjust="spacingAndGlyphs">48hr</text>
<line x1="432.70" y1="310.20" x2="432.70" y2="312.70" stroke="#111" stroke-width="1.2"/>
<text x="432.70" y="323.60" font-size="8.3" fill="#1a1a1a" text-anchor="middle" textLength="15.40" lengthAdjust="spacingAndGlyphs">24hr</text>
<text x="402.70" y="338.10" font-size="10.1" fill="#1a1a1a" text-anchor="middle" textLength="83.40" lengthAdjust="spacingAndGlyphs">Time of VPA removal</text>
<line x1="362.20" y1="302.10" x2="383.00" y2="302.10" stroke="#111" stroke-width="1.2"/>
<circle cx="365.40" cy="302.10" r="1.1" fill="#111"/>
<circle cx="367.70" cy="302.10" r="1.1" fill="#111"/>
<circle cx="370.00" cy="302.10" r="1.1" fill="#111"/>
<circle cx="372.30" cy="302.10" r="1.1" fill="#111"/>
<line x1="402.70" y1="279.60" x2="402.70" y2="280.00" stroke="#111" stroke-width="1.2"/>
<line x1="402.70" y1="298.50" x2="402.70" y2="302.10" stroke="#111" stroke-width="1.2"/>
<line x1="398.10" y1="279.60" x2="407.30" y2="279.60" stroke="#111" stroke-width="1.2"/>
<line x1="398.10" y1="302.10" x2="407.30" y2="302.10" stroke="#111" stroke-width="1.2"/>
<rect x="392.50" y="280.00" width="20.40" height="18.50" fill="#6aa843"/>
<line x1="392.50" y1="284.30" x2="412.90" y2="284.30" stroke="#111" stroke-width="1.6"/>
<circle cx="402.70" cy="279.60" r="1.6" fill="#111"/>
<circle cx="402.70" cy="280.50" r="1.6" fill="#111"/>
<circle cx="402.70" cy="287.70" r="1.6" fill="#111"/>
<circle cx="402.70" cy="302.10" r="1.6" fill="#111"/>
<line x1="432.70" y1="234.20" x2="432.70" y2="245.40" stroke="#111" stroke-width="1.2"/>
<line x1="432.70" y1="288.70" x2="432.70" y2="290.00" stroke="#111" stroke-width="1.2"/>
<line x1="428.10" y1="234.20" x2="437.30" y2="234.20" stroke="#111" stroke-width="1.2"/>
<line x1="428.10" y1="290.00" x2="437.30" y2="290.00" stroke="#111" stroke-width="1.2"/>
<rect x="422.50" y="245.40" width="20.40" height="43.30" fill="#2c4a7c"/>
<line x1="422.50" y1="282.30" x2="442.90" y2="282.30" stroke="#111" stroke-width="1.6"/>
<path d="M431.40,281.50 L434.00,281.50 L432.70,279.20 Z" fill="#111"/>
<path d="M431.40,288.00 L434.00,288.00 L432.70,285.70 Z" fill="#111"/>
<polyline points="371.50,291.20 371.50,222.60 432.50,222.60 432.50,230.00" fill="none" stroke="#383838" stroke-width="1.3"/>
<polyline points="371.50,240.20 403.00,240.20 403.00,271.30" fill="none" stroke="#383838" stroke-width="1.3"/>
<circle cx="402.70" cy="218.90" r="1.12" fill="#222"/>
<text x="385.90" y="237.60" font-size="8.3" fill="#1a1a1a" text-anchor="middle" textLength="7.60" lengthAdjust="spacingAndGlyphs">ns</text>
<text x="9.80" y="367.60" font-size="10.6" fill="#1a1a1a">F</text>
<line x1="49.30" y1="378.80" x2="49.30" y2="479.80" stroke="#111" stroke-width="1.2"/>
<line x1="49.30" y1="479.30" x2="193.20" y2="479.30" stroke="#111" stroke-width="1.2"/>
<line x1="46.00" y1="479.30" x2="49.30" y2="479.30" stroke="#111" stroke-width="1.2"/>
<text x="43.15" y="482.25" font-size="8.2" fill="#1a1a1a" text-anchor="end" textLength="10.60" lengthAdjust="spacingAndGlyphs">0.0</text>
<line x1="46.00" y1="446.70" x2="49.30" y2="446.70" stroke="#111" stroke-width="1.2"/>
<text x="43.15" y="449.65" font-size="8.2" fill="#1a1a1a" text-anchor="end" textLength="10.60" lengthAdjust="spacingAndGlyphs">0.5</text>
<line x1="46.00" y1="414.20" x2="49.30" y2="414.20" stroke="#111" stroke-width="1.2"/>
<text x="43.15" y="417.15" font-size="8.2" fill="#1a1a1a" text-anchor="end" textLength="10.60" lengthAdjust="spacingAndGlyphs">1.0</text>
<line x1="46.00" y1="381.60" x2="49.30" y2="381.60" stroke="#111" stroke-width="1.2"/>
<text x="43.15" y="384.55" font-size="8.2" fill="#1a1a1a" text-anchor="end" textLength="10.60" lengthAdjust="spacingAndGlyphs">1.5</text>
<text transform="translate(26.20,430.90) rotate(-90)" font-size="10.4" fill="#1a1a1a" text-anchor="middle" textLength="154.00" lengthAdjust="spacingAndGlyphs">ECAR (mpH/min) relative fold change</text>
<rect x="63.00" y="414.20" width="17.50" height="65.10" fill="#a3002a"/>
<line x1="71.80" y1="414.20" x2="71.80" y2="405.50" stroke="#383838" stroke-width="1.3"/>
<line x1="67.60" y1="405.50" x2="76.00" y2="405.50" stroke="#383838" stroke-width="1.2"/>
<rect x="89.80" y="462.20" width="17.30" height="17.10" fill="#8a83b9"/>
<line x1="98.50" y1="462.20" x2="98.50" y2="459.10" stroke="#383838" stroke-width="1.3"/>
<line x1="94.30" y1="459.10" x2="102.70" y2="459.10" stroke="#383838" stroke-width="1.2"/>
<rect x="134.80" y="414.20" width="17.50" height="65.10" fill="#a3002a"/>
<line x1="143.60" y1="414.20" x2="143.60" y2="408.60" stroke="#383838" stroke-width="1.3"/>
<line x1="139.40" y1="408.60" x2="147.80" y2="408.60" stroke="#383838" stroke-width="1.2"/>
<rect x="161.80" y="434.80" width="17.30" height="44.50" fill="#8a83b9"/>
<line x1="170.50" y1="434.80" x2="170.50" y2="433.20" stroke="#383838" stroke-width="1.3"/>
<line x1="166.30" y1="433.20" x2="174.70" y2="433.20" stroke="#383838" stroke-width="1.2"/>
<polyline points="71.80,401.90 71.80,386.00 98.50,386.00 98.50,452.70" fill="none" stroke="#383838" stroke-width="1.3"/>
<line x1="67.60" y1="401.90" x2="76.00" y2="401.90" stroke="#383838" stroke-width="1.2"/>
<line x1="94.60" y1="452.70" x2="102.40" y2="452.70" stroke="#383838" stroke-width="1.2"/>
<circle cx="83.55" cy="382.20" r="1.12" fill="#222"/>
<circle cx="86.85" cy="382.20" r="1.12" fill="#222"/>
<line x1="85.20" y1="479.30" x2="85.20" y2="482.30" stroke="#111" stroke-width="1.2"/>
<line x1="156.90" y1="479.30" x2="156.90" y2="482.30" stroke="#111" stroke-width="1.2"/>
<text x="85.00" y="493.10" font-size="8.2" fill="#1a1a1a" text-anchor="middle" textLength="33.20" lengthAdjust="spacingAndGlyphs">Glycolysis</text>
<text x="156.90" y="493.10" font-size="8.2" fill="#1a1a1a" text-anchor="middle" textLength="65.80" lengthAdjust="spacingAndGlyphs">Glycolytic Capacity</text>
<rect x="61.90" y="504.60" width="8.60" height="9.40" fill="#a3002a"/>
<text x="74.00" y="512.30" font-size="8.5" fill="#1a1a1a" textLength="28.30" lengthAdjust="spacingAndGlyphs">Cyt+VPA</text>
<rect x="114.30" y="504.60" width="9.20" height="9.30" fill="#8a83b9"/>
<text x="126.50" y="512.30" font-size="8.5" fill="#1a1a1a" textLength="46.20" lengthAdjust="spacingAndGlyphs">Cyt+VPA+CHC</text>
<text x="221.90" y="367.70" font-size="10.6" fill="#1a1a1a">G</text>
<line x1="268.60" y1="375.60" x2="268.60" y2="479.70" stroke="#111" stroke-width="1.2"/>
<line x1="268.60" y1="479.20" x2="390.10" y2="479.20" stroke="#111" stroke-width="1.2"/>
<line x1="265.40" y1="479.20" x2="268.60" y2="479.20" stroke="#111" stroke-width="1.2"/>
<text x="262.55" y="482.15" font-size="8.2" fill="#1a1a1a" text-anchor="end" textLength="10.60" lengthAdjust="spacingAndGlyphs">0.0</text>
<line x1="265.40" y1="445.80" x2="268.60" y2="445.80" stroke="#111" stroke-width="1.2"/>
<text x="262.55" y="448.75" font-size="8.2" fill="#1a1a1a" text-anchor="end" textLength="10.60" lengthAdjust="spacingAndGlyphs">0.5</text>
<line x1="265.40" y1="412.40" x2="268.60" y2="412.40" stroke="#111" stroke-width="1.2"/>
<text x="262.55" y="415.35" font-size="8.2" fill="#1a1a1a" text-anchor="end" textLength="10.60" lengthAdjust="spacingAndGlyphs">1.0</text>
<line x1="265.40" y1="379.00" x2="268.60" y2="379.00" stroke="#111" stroke-width="1.2"/>
<text x="262.55" y="381.95" font-size="8.2" fill="#1a1a1a" text-anchor="end" textLength="10.60" lengthAdjust="spacingAndGlyphs">1.5</text>
<text transform="translate(244.60,427.60) rotate(-90)" font-size="10.4" fill="#1a1a1a" text-anchor="middle" textLength="122.30" lengthAdjust="spacingAndGlyphs">Percentage CD34<tspan dy="-3.0" font-size="6.5">+</tspan><tspan dy="3.0">CD90</tspan><tspan dy="-3.0" font-size="6.5">+</tspan><tspan dy="3.0">cells</tspan></text>
<rect x="273.70" y="475.10" width="20.50" height="4.10" fill="#808080"/>
<line x1="283.95" y1="475.10" x2="283.95" y2="474.00" stroke="#383838" stroke-width="1.3"/>
<line x1="278.65" y1="474.00" x2="289.25" y2="474.00" stroke="#383838" stroke-width="1.3"/>
<rect x="303.80" y="412.10" width="20.60" height="67.10" fill="#a3002a"/>
<rect x="334.50" y="474.80" width="20.60" height="4.40" fill="#3a6e55"/>
<line x1="344.80" y1="474.80" x2="344.80" y2="473.80" stroke="#383838" stroke-width="1.3"/>
<line x1="339.50" y1="473.80" x2="350.10" y2="473.80" stroke="#383838" stroke-width="1.3"/>
<rect x="364.90" y="441.40" width="20.30" height="37.80" fill="#8a83b9"/>
<line x1="375.05" y1="441.40" x2="375.05" y2="434.00" stroke="#383838" stroke-width="1.3"/>
<line x1="371.55" y1="434.00" x2="378.55" y2="434.00" stroke="#383838" stroke-width="1.3"/>
<polyline points="313.10,407.10 313.10,385.60 375.10,385.60 375.10,431.80" fill="none" stroke="#383838" stroke-width="1.3"/>
<line x1="305.20" y1="407.10" x2="321.60" y2="407.10" stroke="#383838" stroke-width="1.2"/>
<line x1="369.50" y1="431.80" x2="380.70" y2="431.80" stroke="#383838" stroke-width="1.2"/>
<circle cx="339.25" cy="382.20" r="1.12" fill="#222"/>
<circle cx="342.55" cy="382.20" r="1.12" fill="#222"/>
<circle cx="345.85" cy="382.20" r="1.12" fill="#222"/>
<circle cx="349.15" cy="382.20" r="1.12" fill="#222"/>
<line x1="283.80" y1="479.20" x2="283.80" y2="481.80" stroke="#111" stroke-width="1.2"/>
<text transform="translate(286.00,486.40) rotate(-45)" font-size="7.8" fill="#1a1a1a" text-anchor="end" textLength="11.00" lengthAdjust="spacingAndGlyphs" dominant-baseline="central">Cyt</text>
<line x1="314.00" y1="479.20" x2="314.00" y2="481.80" stroke="#111" stroke-width="1.2"/>
<text transform="translate(316.20,486.40) rotate(-45)" font-size="7.8" fill="#1a1a1a" text-anchor="end" textLength="30.60" lengthAdjust="spacingAndGlyphs" dominant-baseline="central">Cyt+VPA</text>
<line x1="344.70" y1="479.20" x2="344.70" y2="481.80" stroke="#111" stroke-width="1.2"/>
<text transform="translate(346.90,486.40) rotate(-45)" font-size="7.8" fill="#1a1a1a" text-anchor="end" textLength="31.60" lengthAdjust="spacingAndGlyphs" dominant-baseline="central">Cyt+CHC</text>
<line x1="375.10" y1="479.20" x2="375.10" y2="481.80" stroke="#111" stroke-width="1.2"/>
<text transform="translate(377.30,486.40) rotate(-45)" font-size="7.8" fill="#1a1a1a" text-anchor="end" textLength="49.80" lengthAdjust="spacingAndGlyphs" dominant-baseline="central">Cyt+VPA+CHC</text>
<text x="8.70" y="545.80" font-size="10.6" fill="#1a1a1a">H</text>
<line x1="49.00" y1="550.20" x2="49.00" y2="650.10" stroke="#111" stroke-width="1.2"/>
<line x1="49.00" y1="649.60" x2="182.70" y2="649.60" stroke="#111" stroke-width="1.2"/>
<line x1="45.80" y1="649.60" x2="49.00" y2="649.60" stroke="#111" stroke-width="1.2"/>
<text x="43.05" y="652.55" font-size="8.2" fill="#1a1a1a" text-anchor="end" textLength="10.60" lengthAdjust="spacingAndGlyphs">0.0</text>
<line x1="45.80" y1="617.50" x2="49.00" y2="617.50" stroke="#111" stroke-width="1.2"/>
<text x="43.05" y="620.45" font-size="8.2" fill="#1a1a1a" text-anchor="end" textLength="10.60" lengthAdjust="spacingAndGlyphs">0.5</text>
<line x1="45.80" y1="585.40" x2="49.00" y2="585.40" stroke="#111" stroke-width="1.2"/>
<text x="43.05" y="588.35" font-size="8.2" fill="#1a1a1a" text-anchor="end" textLength="10.60" lengthAdjust="spacingAndGlyphs">1.0</text>
<line x1="45.80" y1="553.20" x2="49.00" y2="553.20" stroke="#111" stroke-width="1.2"/>
<text x="43.05" y="556.15" font-size="8.2" fill="#1a1a1a" text-anchor="end" textLength="10.60" lengthAdjust="spacingAndGlyphs">1.5</text>
<text transform="translate(26.10,600.90) rotate(-90)" font-size="10.4" fill="#1a1a1a" text-anchor="middle" textLength="84.00" lengthAdjust="spacingAndGlyphs">Relative fold change</text>
<rect x="57.70" y="585.40" width="11.50" height="64.20" fill="#4f5566"/>
<rect x="74.00" y="599.60" width="12.00" height="50.00" fill="#6aa8dc"/>
<line x1="58.25" y1="581.30" x2="68.65" y2="581.30" stroke="#383838" stroke-width="1.2"/>
<line x1="80.00" y1="599.60" x2="80.00" y2="598.30" stroke="#383838" stroke-width="1.3"/>
<line x1="77.20" y1="598.30" x2="82.80" y2="598.30" stroke="#383838" stroke-width="1.2"/>
<polyline points="62.90,581.30 62.90,571.00 80.60,571.00 80.60,594.80" fill="none" stroke="#383838" stroke-width="1.3"/>
<line x1="75.30" y1="594.80" x2="85.90" y2="594.80" stroke="#383838" stroke-width="1.2"/>
<circle cx="71.55" cy="567.00" r="1.12" fill="#222"/>
<circle cx="74.85" cy="567.00" r="1.12" fill="#222"/>
<line x1="71.60" y1="649.60" x2="71.60" y2="652.20" stroke="#111" stroke-width="1.2"/>
<text x="71.75" y="663.80" font-size="8.2" fill="#1a1a1a" text-anchor="middle" textLength="17.30" lengthAdjust="spacingAndGlyphs">Mass</text>
<rect x="102.90" y="585.40" width="11.10" height="64.20" fill="#4f5566"/>
<rect x="119.20" y="602.70" width="11.80" height="46.90" fill="#6aa8dc"/>
<line x1="103.25" y1="580.00" x2="113.65" y2="580.00" stroke="#383838" stroke-width="1.2"/>
<line x1="125.10" y1="602.70" x2="125.10" y2="597.70" stroke="#383838" stroke-width="1.3"/>
<line x1="122.30" y1="597.70" x2="127.90" y2="597.70" stroke="#383838" stroke-width="1.2"/>
<polyline points="107.70,580.00 107.70,571.00 125.60,571.00 125.60,594.80" fill="none" stroke="#383838" stroke-width="1.3"/>
<line x1="120.30" y1="594.80" x2="130.90" y2="594.80" stroke="#383838" stroke-width="1.2"/>
<circle cx="115.25" cy="567.00" r="1.12" fill="#222"/>
<circle cx="118.55" cy="567.00" r="1.12" fill="#222"/>
<line x1="116.60" y1="649.60" x2="116.60" y2="652.20" stroke="#111" stroke-width="1.2"/>
<text x="116.70" y="663.80" font-size="8.2" fill="#1a1a1a" text-anchor="middle" textLength="31.20" lengthAdjust="spacingAndGlyphs">Potential</text>
<rect x="148.10" y="585.40" width="11.10" height="64.20" fill="#4f5566"/>
<rect x="164.40" y="620.00" width="11.60" height="29.60" fill="#6aa8dc"/>
<line x1="148.45" y1="579.00" x2="158.85" y2="579.00" stroke="#383838" stroke-width="1.2"/>
<line x1="170.20" y1="620.00" x2="170.20" y2="614.60" stroke="#383838" stroke-width="1.3"/>
<line x1="167.40" y1="614.60" x2="173.00" y2="614.60" stroke="#383838" stroke-width="1.2"/>
<polyline points="153.50,579.00 153.50,571.00 170.40,571.00 170.40,608.80" fill="none" stroke="#383838" stroke-width="1.3"/>
<line x1="165.10" y1="608.80" x2="175.70" y2="608.80" stroke="#383838" stroke-width="1.2"/>
<circle cx="156.95" cy="567.00" r="1.12" fill="#222"/>
<circle cx="160.25" cy="567.00" r="1.12" fill="#222"/>
<circle cx="163.55" cy="567.00" r="1.12" fill="#222"/>
<circle cx="166.85" cy="567.00" r="1.12" fill="#222"/>
<line x1="161.80" y1="649.60" x2="161.80" y2="652.20" stroke="#111" stroke-width="1.2"/>
<text x="161.70" y="663.80" font-size="8.2" fill="#1a1a1a" text-anchor="middle" textLength="13.80" lengthAdjust="spacingAndGlyphs">ROS</text>
<rect x="75.50" y="672.50" width="9.80" height="9.20" fill="#4f5566"/>
<text x="87.60" y="679.60" font-size="8.5" fill="#1a1a1a" textLength="31.70" lengthAdjust="spacingAndGlyphs">Normoxia</text>
<rect x="126.00" y="672.50" width="9.20" height="9.20" fill="#6aa8dc"/>
<text x="138.00" y="679.60" font-size="8.5" fill="#1a1a1a" textLength="26.60" lengthAdjust="spacingAndGlyphs">Hypoxia</text>
<text x="225.00" y="545.80" font-size="10.6" fill="#1a1a1a">I</text>
<line x1="268.60" y1="557.30" x2="268.60" y2="650.10" stroke="#111" stroke-width="1.2"/>
<line x1="268.60" y1="649.60" x2="380.40" y2="649.60" stroke="#111" stroke-width="1.2"/>
<line x1="265.40" y1="649.60" x2="268.60" y2="649.60" stroke="#111" stroke-width="1.2"/>
<text x="262.45" y="652.55" font-size="8.2" fill="#1a1a1a" text-anchor="end" textLength="4.30" lengthAdjust="spacingAndGlyphs">0</text>
<line x1="265.40" y1="631.76" x2="268.60" y2="631.76" stroke="#111" stroke-width="1.2"/>
<text x="262.45" y="634.71" font-size="8.2" fill="#1a1a1a" text-anchor="end" textLength="8.60" lengthAdjust="spacingAndGlyphs">10</text>
<line x1="265.40" y1="613.92" x2="268.60" y2="613.92" stroke="#111" stroke-width="1.2"/>
<text x="262.45" y="616.87" font-size="8.2" fill="#1a1a1a" text-anchor="end" textLength="8.60" lengthAdjust="spacingAndGlyphs">20</text>
<line x1="265.40" y1="596.08" x2="268.60" y2="596.08" stroke="#111" stroke-width="1.2"/>
<text x="262.45" y="599.03" font-size="8.2" fill="#1a1a1a" text-anchor="end" textLength="8.60" lengthAdjust="spacingAndGlyphs">30</text>
<line x1="265.40" y1="578.24" x2="268.60" y2="578.24" stroke="#111" stroke-width="1.2"/>
<text x="262.45" y="581.19" font-size="8.2" fill="#1a1a1a" text-anchor="end" textLength="8.60" lengthAdjust="spacingAndGlyphs">40</text>
<line x1="265.40" y1="560.40" x2="268.60" y2="560.40" stroke="#111" stroke-width="1.2"/>
<text x="262.45" y="563.35" font-size="8.2" fill="#1a1a1a" text-anchor="end" textLength="8.60" lengthAdjust="spacingAndGlyphs">50</text>
<text transform="translate(246.10,601.00) rotate(-90)" font-size="10.4" fill="#1a1a1a" text-anchor="middle" textLength="124.20" lengthAdjust="spacingAndGlyphs">Percentage CD34<tspan dy="-3.0" font-size="6.5">+</tspan><tspan dy="3.0">CD90</tspan><tspan dy="-3.0" font-size="6.5">+</tspan><tspan dy="3.0"> cells</tspan></text>
<rect x="273.80" y="648.70" width="18.50" height="0.90" fill="#4f5566"/>
<line x1="283.05" y1="648.70" x2="283.05" y2="648.00" stroke="#383838" stroke-width="1.3"/>
<line x1="278.45" y1="648.00" x2="287.65" y2="648.00" stroke="#383838" stroke-width="1.2"/>
<line x1="283.05" y1="649.60" x2="283.05" y2="652.30" stroke="#111" stroke-width="1.2"/>
<rect x="301.50" y="648.30" width="18.50" height="1.30" fill="#6aa8dc"/>
<line x1="310.75" y1="648.30" x2="310.75" y2="647.40" stroke="#383838" stroke-width="1.3"/>
<line x1="306.15" y1="647.40" x2="315.35" y2="647.40" stroke="#383838" stroke-width="1.2"/>
<line x1="310.75" y1="649.60" x2="310.75" y2="652.30" stroke="#111" stroke-width="1.2"/>
<rect x="329.20" y="614.20" width="19.20" height="35.40" fill="#4f5566"/>
<line x1="338.80" y1="614.20" x2="338.80" y2="610.50" stroke="#383838" stroke-width="1.3"/>
<line x1="334.20" y1="610.50" x2="343.40" y2="610.50" stroke="#383838" stroke-width="1.2"/>
<line x1="338.80" y1="649.60" x2="338.80" y2="652.30" stroke="#111" stroke-width="1.2"/>
<rect x="356.90" y="580.70" width="19.20" height="68.90" fill="#6aa8dc"/>
<line x1="366.50" y1="580.70" x2="366.50" y2="573.10" stroke="#383838" stroke-width="1.3"/>
<line x1="361.90" y1="573.10" x2="371.10" y2="573.10" stroke="#383838" stroke-width="1.2"/>
<line x1="366.50" y1="649.60" x2="366.50" y2="652.30" stroke="#111" stroke-width="1.2"/>
<polyline points="338.80,605.40 338.80,563.80 366.50,563.80 366.50,570.30" fill="none" stroke="#383838" stroke-width="1.3"/>
<line x1="333.80" y1="605.40" x2="343.80" y2="605.40" stroke="#383838" stroke-width="1.2"/>
<line x1="361.50" y1="570.30" x2="371.50" y2="570.30" stroke="#383838" stroke-width="1.2"/>
<circle cx="350.95" cy="560.50" r="1.12" fill="#222"/>
<circle cx="354.25" cy="560.50" r="1.12" fill="#222"/>
<text x="296.40" y="663.40" font-size="8.2" fill="#1a1a1a" text-anchor="middle" textLength="11.10" lengthAdjust="spacingAndGlyphs">Cyt</text>
<text x="352.70" y="663.40" font-size="8.2" fill="#1a1a1a" text-anchor="middle" textLength="28.60" lengthAdjust="spacingAndGlyphs">Cyt+VPA</text>
<rect x="279.50" y="675.20" width="9.10" height="9.30" fill="#4f5566"/>
<text x="291.80" y="683.00" font-size="8.5" fill="#1a1a1a" textLength="31.10" lengthAdjust="spacingAndGlyphs">Normoxia</text>
<rect x="329.70" y="675.20" width="9.10" height="9.30" fill="#6aa8dc"/>
<text x="341.90" y="683.00" font-size="8.5" fill="#1a1a1a" textLength="26.50" lengthAdjust="spacingAndGlyphs">Hypoxia</text>
<rect x="0.00" y="0.00" width="1.70" height="693.00" fill="#3a3a3a"/>
<rect x="0.00" y="0.00" width="520.00" height="1.30" fill="#111"/>
<rect x="518.70" y="0.00" width="1.30" height="693.00" fill="#111"/>
<rect x="0.00" y="691.80" width="520.00" height="1.20" fill="#111"/>
</svg>
</body></html>
